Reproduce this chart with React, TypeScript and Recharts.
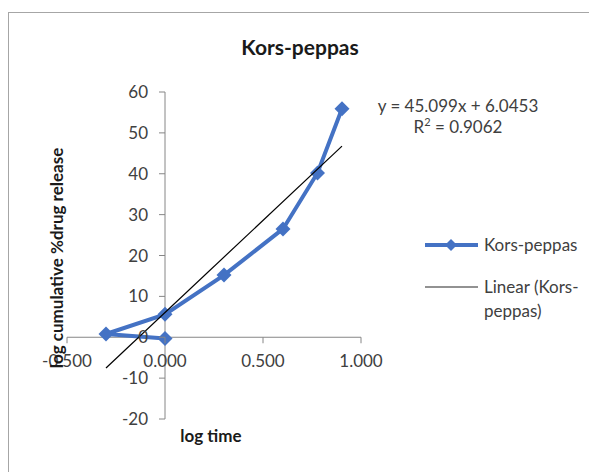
import React from "react";
import {
  ScatterChart,
  Scatter,
  XAxis,
  YAxis,
  ReferenceLine,
} from "recharts";

// log time vs log cumulative % drug release
const logTime = [0, -0.301, 0, 0.301, 0.602, 0.778, 0.903];
const logRelease = [-0.3, 0.8, 5.6, 15.2, 26.5, 40.2, 55.9];

const xTicks = [-0.5, 0, 0.5, 1.0];
const yTicks = [-20, -10, 0, 10, 20, 30, 40, 50, 60];

// linear fit printed on the chart
const slope = 45.099;
const intercept = 6.0453;
const rSquared = 0.9062;

const W = 589;
const H = 472;
const AXIS_PAD = 1;
const M = { top: 92, left: 67 - AXIS_PAD, right: 228, bottom: 53 - AXIS_PAD };
const X_DOMAIN: [number, number] = [-0.5, 1.0];
const Y_DOMAIN: [number, number] = [-20, 60];

const BLUE = "#4472C4";
const AXIS = "#868686";
const FONT = "Lato, 'Open Sans', sans-serif";
const TEXT = "#404040";

const plotW = W - 67 - M.right;
const plotH = H - M.top - 53;
// pixel position of the axes crossing (x = 0, y = 0)
const zeroX = 67 + (plotW * (0 - X_DOMAIN[0])) / (X_DOMAIN[1] - X_DOMAIN[0]);
const zeroY = M.top + (plotH * (Y_DOMAIN[1] - 0)) / (Y_DOMAIN[1] - Y_DOMAIN[0]);

const points = logTime.map((x, i) => ({ x, y: logRelease[i] }));
const xMin = Math.min(...logTime);
const xMax = Math.max(...logTime);
const trend = [
  { x: xMin, y: slope * xMin + intercept },
  { x: xMax, y: slope * xMax + intercept },
];

const Diamond = (props: any) => {
  const { cx, cy } = props;
  const r = 7.5;
  return (
    <polygon
      points={`${cx},${cy - r} ${cx + r},${cy} ${cx},${cy + r} ${cx - r},${cy}`}
      fill={BLUE}
    />
  );
};

const renderXTick = (props: any) => {
  const { x, payload } = props;
  return (
    <g>
      <line x1={x} x2={x} y1={zeroY} y2={zeroY + 6} stroke={AXIS} />
      <text x={x} y={zeroY + 30} textAnchor="middle" fontSize={17} fill={TEXT} fontFamily={FONT}>
        {Number(payload.value).toFixed(3)}
      </text>
    </g>
  );
};

const renderYTick = (props: any) => {
  const { y, payload } = props;
  return (
    <g>
      <line x1={zeroX - 6} x2={zeroX} y1={y} y2={y} stroke={AXIS} />
      <text x={zeroX - 17} y={y + 6} textAnchor="end" fontSize={17} fill={TEXT} fontFamily={FONT}>
        {payload.value}
      </text>
    </g>
  );
};

const legendText = { fontSize: 17, fill: TEXT, fontFamily: FONT };

export default function App() {
  return (
    <div
      style={{
        position: "absolute",
        left: 0,
        top: 0,
        width: W,
        height: H,
        overflow: "hidden",
        background: "#fff",
        fontFamily: FONT,
      }}
    >
      <div
        style={{
          position: "absolute",
          left: 8,
          top: 12,
          width: W - 8,
          height: H - 12,
          borderLeft: "1px solid #a6a6a6",
          borderTop: "1px solid #a6a6a6",
          boxSizing: "border-box",
        }}
      />
      <ScatterChart width={W} height={H} margin={M} style={{ position: "absolute", left: 0, top: 0 }}>
        <XAxis
          type="number"
          dataKey="x"
          domain={X_DOMAIN}
          ticks={xTicks}
          allowDataOverflow
          height={AXIS_PAD}
          axisLine={false}
          tickLine={false}
          tick={renderXTick}
          interval={0}
        />
        <YAxis
          type="number"
          dataKey="y"
          domain={Y_DOMAIN}
          ticks={yTicks}
          allowDataOverflow
          width={AXIS_PAD}
          axisLine={false}
          tickLine={false}
          tick={renderYTick}
          interval={0}
        />
        <ReferenceLine y={0} stroke={AXIS} strokeWidth={1} />
        <ReferenceLine x={0} stroke={AXIS} strokeWidth={1} />
        <Scatter
          data={points}
          fill={BLUE}
          line={{ stroke: BLUE, strokeWidth: 4 }}
          shape={<Diamond />}
          isAnimationActive={false}
        />
        <Scatter
          data={trend}
          line={{ stroke: "#000", strokeWidth: 1.2 }}
          shape={() => <g />}
          isAnimationActive={false}
        />
      </ScatterChart>
      <svg
        width={160}
        height={100}
        style={{ position: "absolute", left: 425, top: 232, overflow: "visible" }}
      >
        <line x1={0} x2={53} y1={13} y2={13} stroke={BLUE} strokeWidth={4} />
        <polygon points="26,7 32,13 26,19 20,13" fill={BLUE} />
        <text x={59} y={19} {...legendText}>Kors-peppas</text>
        <line x1={0} x2={53} y1={55} y2={55} stroke="#262626" strokeWidth={1.2} />
        <text x={59} y={61} {...legendText}>Linear (Kors-</text>
        <text x={59} y={85} {...legendText}>peppas)</text>
      </svg>
      <div
        style={{
          position: "absolute",
          left: 0,
          width: 600,
          top: 34,
          textAlign: "center",
          fontWeight: 700,
          fontSize: 21,
          color: "#1a1a1a",
        }}
      >
        Kors-peppas
      </div>
      <div
        style={{
          position: "absolute",
          left: 358,
          width: 200,
          top: 95,
          textAlign: "center",
          fontSize: 17,
          lineHeight: "21px",
          color: TEXT,
        }}
      >
        <div>{`y = ${slope}x + ${intercept}`}</div>
        <div>
          R<sup style={{ fontSize: 11, lineHeight: 0 }}>2</sup> = {rSquared}
        </div>
      </div>
      <div
        style={{
          position: "absolute",
          left: 111,
          width: 200,
          top: 425,
          textAlign: "center",
          fontSize: 17,
          fontWeight: 700,
          color: "#1a1a1a",
        }}
      >
        log time
      </div>
      <div
        style={{
          position: "absolute",
          left: 57 - 150,
          top: 258 - 11,
          width: 300,
          height: 22,
          lineHeight: "22px",
          textAlign: "center",
          fontSize: 17,
          fontWeight: 700,
          color: "#1a1a1a",
          transform: "rotate(-90deg)",
        }}
      >
        log cumulative %drug release
      </div>
    </div>
  );
}
